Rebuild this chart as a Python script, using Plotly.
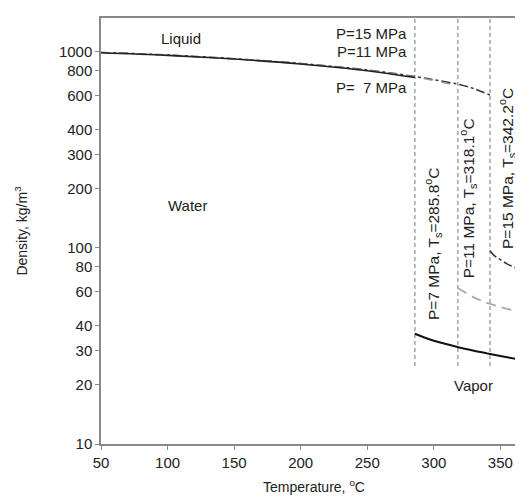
import plotly.graph_objects as go
import math

# Liquid branches (temperature °C, density kg/m3)
liq7_T = [50, 100, 150, 200, 250, 285.8]
liq7_rho = [991, 961, 920, 868, 802, 740]
liq11_T = [50, 100, 150, 200, 250, 285.8, 300, 318.1]
liq11_rho = [993, 963, 922, 870, 805, 745, 715, 672]
liq15_T = [50, 100, 150, 200, 250, 285.8, 300, 318.1, 330, 342.2]
liq15_rho = [995, 965, 924, 873, 809, 750, 722, 685, 650, 603]

# Vapor branches
vap7_T = [285.8, 300, 320, 340, 350, 370]
vap7_rho = [36.5, 33.6, 31.0, 29.0, 28.1, 26.6]
vap11_T = [318.1, 330, 340, 350, 360, 370]
vap11_rho = [62.5, 56.0, 52.5, 50.0, 48.0, 46.2]
vap15_T = [342.2, 345, 350, 355, 360, 370]
vap15_rho = [96.7, 92.0, 87.2, 83.0, 80.0, 75.0]

sat_T = [285.8, 318.1, 342.2]
sat_line_rho = [25, 1500]

yticks = [10, 20, 30, 40, 60, 80, 100, 200, 300, 400, 600, 800, 1000]
xticks = [50, 100, 150, 200, 250, 300, 350]

FONT = "Liberation Sans, Arial, sans-serif"
fig = go.Figure()

for T in sat_T:
    fig.add_trace(go.Scatter(x=[T, T], y=sat_line_rho, mode="lines",
                             line=dict(color="#777777", width=1, dash="4px,3px")))

fig.add_trace(go.Scatter(x=liq15_T, y=liq15_rho, mode="lines",
                         line=dict(color="#333333", width=1.5, dash="dashdot", shape="spline")))
fig.add_trace(go.Scatter(x=liq11_T, y=liq11_rho, mode="lines",
                         line=dict(color="#999999", width=1.5, dash="dash", shape="spline")))
fig.add_trace(go.Scatter(x=liq7_T, y=liq7_rho, mode="lines",
                         line=dict(color="#222222", width=1.6, shape="spline")))

fig.add_trace(go.Scatter(x=vap7_T, y=vap7_rho, mode="lines",
                         line=dict(color="#111111", width=2, shape="spline")))
fig.add_trace(go.Scatter(x=vap11_T, y=vap11_rho, mode="lines",
                         line=dict(color="#aaaaaa", width=1.8, dash="10px,6px", shape="spline")))
fig.add_trace(go.Scatter(x=vap15_T, y=vap15_rho, mode="lines",
                         line=dict(color="#333333", width=1.5, dash="dashdot", shape="spline")))

ann = []
def txt(x, y, s, xa="center", ang=0, size=15):
    ann.append(dict(x=x, y=y, xref="x", yref="y", text=s, showarrow=False,
                    xanchor=xa, yanchor="middle", textangle=ang,
                    font=dict(family=FONT, size=size, color="#222222")))

txt(110, math.log10(1165), "Liquid")
txt(281.5, math.log10(1235), "P=15 MPa", xa="right")
txt(281.5, math.log10(1000), "P=11 MPa", xa="right")
txt(281.5, math.log10(655), "P=  7 MPa", xa="right")
txt(115, math.log10(164), "Water")
txt(330, math.log10(19.8), "Vapor")
txt(299.5, math.log10(105), "P=7 MPa, T<sub>s</sub>=285.8<sup>o</sup>C", ang=-90, size=15.5)
txt(326, math.log10(180), "P=11 MPa, T<sub>s</sub>=318.1<sup>o</sup>C", ang=-90, size=15.5)
txt(355.5, math.log10(255), "P=15 MPa, T<sub>s</sub>=342.2<sup>o</sup>C", ang=-90, size=15.5)

fig.update_layout(
    width=523, height=499,
    margin=dict(l=93, r=2, t=10, b=63),
    paper_bgcolor="white", plot_bgcolor="white",
    showlegend=False,
    font=dict(family=FONT, size=15, color="#222222"),
    annotations=ann,
    xaxis=dict(range=[50, 370], tickvals=xticks, ticks="outside", ticklen=4,
               tickcolor="#888888", showline=True, linecolor="#888888", linewidth=1.5,
               mirror=True, showgrid=False, zeroline=False,
               title=dict(text="Temperature, <sup>o</sup>C", standoff=12,
                          font=dict(size=14))),
    yaxis=dict(type="log", range=[1, math.log10(1490)], tickvals=yticks,
               ticktext=[str(v) for v in yticks], ticks="outside", ticklen=4,
               tickcolor="#888888", showline=True, linecolor="#888888", linewidth=1.5,
               mirror=True, showgrid=False, zeroline=False,
               title=dict(text="Density, kg/m<sup>3</sup>", standoff=28,
                          font=dict(size=14))),
)

fig.write_html("out.html")
